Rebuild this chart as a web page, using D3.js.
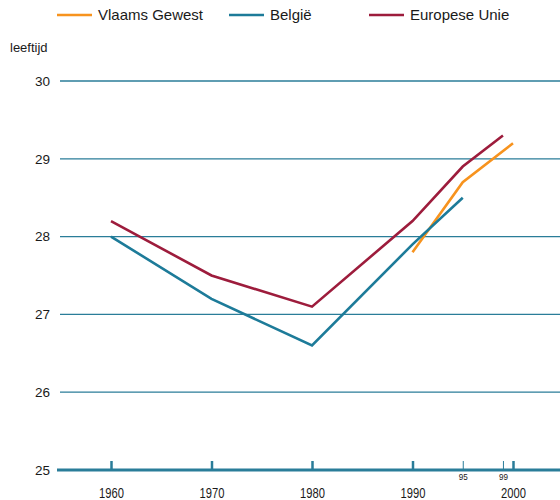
<!DOCTYPE html>
<html>
<head>
<meta charset="utf-8">
<script src="https://cdn.jsdelivr.net/npm/d3@7"></script>
<style>
html,body{margin:0;padding:0;background:#fff;}
svg{display:block;font-family:"Liberation Sans",Arial,Helvetica,sans-serif;}
</style>
</head>
<body>
<svg id="chart" width="560" height="500"></svg>
<script>
const seriesNames = ["Vlaams Gewest", "België", "Europese Unie"];
const seriesColors = ["#f7931e", "#1d7b99", "#9d1c3c"];
const vlaamsYears = [1990, 1995, 2000];
const vlaamsValues = [27.8, 28.7, 29.2];
const belgieYears = [1960, 1970, 1980, 1990, 1995];
const belgieValues = [28.0, 27.2, 26.6, 27.9, 28.5];
const euYears = [1960, 1970, 1980, 1990, 1995, 1999];
const euValues = [28.2, 27.5, 27.1, 28.2, 28.9, 29.3];
const yTicks = [25, 26, 27, 28, 29, 30];
const xMajorTicks = [1960, 1970, 1980, 1990, 2000];
const xMinorTicks = [1995, 1999];
const yLabel = "leeftijd";

const svg = d3.select("#chart");
const x = d3.scaleLinear().domain([1960, 2000]).range([111, 513]);
const y = d3.scaleLinear().domain([25, 30]).range([470, 81]);
const gridColor = "#2a7d99";
const textColor = "#1a1a1a";

// gridlines
svg.append("g").selectAll("line").data(yTicks.filter(d => d > 25)).join("line")
  .attr("x1", 60).attr("x2", 560)
  .attr("y1", d => y(d)).attr("y2", d => y(d))
  .attr("stroke", gridColor).attr("stroke-width", 1.3);

// y labels
svg.append("g").selectAll("text").data(yTicks).join("text")
  .attr("x", 50).attr("y", d => y(d)).attr("dy", "0.36em")
  .attr("text-anchor", "end").attr("font-size", 13.5).attr("fill", textColor)
  .text(d => d);

svg.append("text").attr("x", 10).attr("y", 52).attr("font-size", 13).attr("fill", textColor).text(yLabel);

// x axis major
const gMaj = svg.append("g").attr("transform", `translate(0,${y(25)})`)
  .call(d3.axisBottom(x).tickValues(xMajorTicks).tickFormat(d3.format("d")).tickSize(-9).tickPadding(18));
gMaj.select(".domain").remove();
gMaj.selectAll(".tick line").attr("stroke", gridColor).attr("stroke-width", 2.5);
gMaj.selectAll(".tick text").attr("font-size", 14).attr("fill", textColor)
  .attr("font-family", "'Liberation Sans',Arial,sans-serif").attr("transform", "scale(0.8,1)");

// x axis minor
const gMin = svg.append("g").attr("transform", `translate(0,${y(25)})`)
  .call(d3.axisBottom(x).tickValues(xMinorTicks).tickFormat(d => String(d).slice(2)).tickSize(-9).tickPadding(3));
gMin.select(".domain").remove();
gMin.selectAll(".tick line").attr("stroke", gridColor).attr("stroke-width", 1);
gMin.selectAll(".tick text").attr("font-size", 9.5).attr("fill", textColor)
  .attr("font-family", "'Liberation Sans',Arial,sans-serif").attr("transform", "scale(0.85,1)");

// axis baseline
svg.append("line").attr("x1", 57).attr("x2", 560).attr("y1", y(25)).attr("y2", y(25))
  .attr("stroke", gridColor).attr("stroke-width", 2.8);

// lines
const line = d3.line().x(d => x(d[0])).y(d => y(d[1]));
const series = [
  d3.zip(vlaamsYears, vlaamsValues),
  d3.zip(belgieYears, belgieValues),
  d3.zip(euYears, euValues)
];
svg.append("g").selectAll("path").data(series).join("path")
  .attr("d", line).attr("fill", "none")
  .attr("stroke", (d, i) => seriesColors[i]).attr("stroke-width", 2.6)
  .attr("stroke-linejoin", "miter");

// legend
const legendX = [57, 229, 369];
const lg = svg.append("g").selectAll("g").data(seriesNames).join("g")
  .attr("transform", (d, i) => `translate(${legendX[i]},15)`);
lg.append("line").attr("x1", 0).attr("x2", 35).attr("y1", 0).attr("y2", 0)
  .attr("stroke", (d, i) => seriesColors[i]).attr("stroke-width", 2.6);
lg.append("text").attr("x", 41).attr("dy", "0.36em").attr("font-size", 15).attr("fill", textColor).text(d => d);
</script>
</body>
</html>
